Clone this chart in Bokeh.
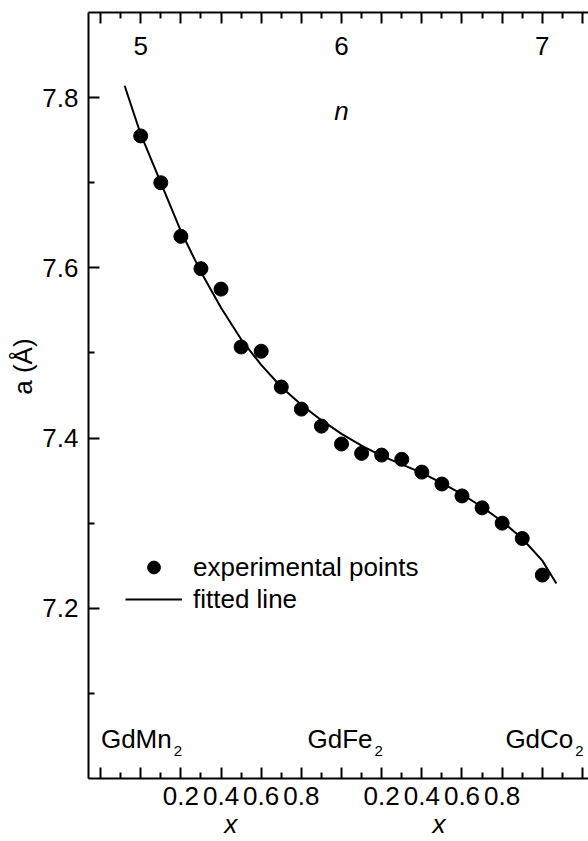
from bokeh.plotting import figure
from bokeh.models import (LinearAxis, FixedTicker, Range1d, Legend, LegendItem)
from bokeh.core.properties import value
from bokeh.embed import file_html
from bokeh.resources import INLINE

# ---------------- data ----------------
# n = number of 3d electrons; x = composition within each series
n_exp = [5.0, 5.1, 5.2, 5.3, 5.4, 5.5, 5.6, 5.7, 5.8, 5.9, 6.0,
         6.1, 6.2, 6.3, 6.4, 6.5, 6.6, 6.7, 6.8, 6.9, 7.0]
a_exp = [7.755, 7.700, 7.637, 7.599, 7.575, 7.507, 7.502, 7.460, 7.434, 7.414, 7.393,
         7.382, 7.380, 7.375, 7.360, 7.346, 7.332, 7.318, 7.300, 7.282, 7.239]

n_fit = [4.92, 5.00, 5.10, 5.20, 5.30, 5.40, 5.50, 5.60, 5.70, 5.80, 5.90, 6.00,
         6.10, 6.20, 6.30, 6.40, 6.50, 6.60, 6.70, 6.80, 6.90, 7.00, 7.07]
a_fit = [7.814, 7.757, 7.700, 7.643, 7.595, 7.553, 7.516, 7.486, 7.460, 7.439, 7.421, 7.405,
         7.391, 7.379, 7.369, 7.359, 7.347, 7.334, 7.319, 7.302, 7.282, 7.256, 7.229]

compound_n = [5.0, 6.0, 7.0]
compound_names = ["GdMn", "GdFe", "GdCo"]
compound_sub = ["2", "2", "2"]
top_tick_labels = ["5", "6", "7"]
x_frac_labels = ["0.2", "0.4", "0.6", "0.8"]
x_frac_values = [0.2, 0.4, 0.6, 0.8]
x_major = [4.8, 5.0, 5.2, 5.4, 5.6, 5.8, 6.0, 6.2, 6.4, 6.6, 6.8, 7.0, 7.2]
x_minor = [4.9, 5.1, 5.3, 5.5, 5.7, 5.9, 6.1, 6.3, 6.5, 6.7, 6.9, 7.1]
y_major = [7.2, 7.4, 7.6, 7.8]
y_minor = [7.1, 7.3, 7.5, 7.7]

FONT = "Liberation Sans"
FS = "26px"
NBSP = "\u00a0"

p = figure(width=588, height=841, output_backend="svg", toolbar_location=None,
           x_range=Range1d(4.74, 7.23), y_range=Range1d(7.0, 7.9),
           min_border_left=88, min_border_right=0, min_border_top=12,
           min_border_bottom=63)
p.outline_line_color = None
p.grid.visible = False
p.background_fill_color = "white"
p.border_fill_color = "white"


def style_axis(ax):
    ax.axis_line_color = "black"
    ax.axis_line_width = 2
    ax.major_tick_line_color = "black"
    ax.major_tick_line_width = 2
    ax.minor_tick_line_color = "black"
    ax.minor_tick_line_width = 2
    ax.major_tick_in = 11
    ax.major_tick_out = 0
    ax.minor_tick_in = 6
    ax.minor_tick_out = 0
    ax.major_label_text_font = FONT
    ax.major_label_text_font_size = FS
    ax.major_label_text_color = "black"
    ax.axis_label_text_font = FONT
    ax.axis_label_text_font_size = FS
    ax.axis_label_text_color = "black"
    ax.axis_label_text_font_style = "normal"


# bottom axis: x within each series (one italic "x" title under each series)
xb = p.xaxis[0]
xb.ticker = FixedTicker(ticks=x_major, minor_ticks=x_minor)
style_axis(xb)
overrides = {t: "" for t in x_major}
for base in compound_n[:2]:
    for f, lab in zip(x_frac_values, x_frac_labels):
        overrides[round(base + f, 1)] = lab
xb.major_label_overrides = overrides
xb.major_label_standoff = 8
xb.axis_label = "x" + NBSP * 27 + "x" + NBSP
xb.axis_label_text_font_style = "italic"
xb.axis_label_text_baseline = "alphabetic"
xb.axis_label_standoff = 1

# top axis: n (labels drawn inside the frame)
xt = LinearAxis(ticker=FixedTicker(ticks=x_major, minor_ticks=x_minor))
style_axis(xt)
xt.major_label_text_font_size = "1px"
xt.major_label_text_alpha = 0
xt.major_label_standoff = 0
p.add_layout(xt, "above")

# left axis
yl = p.yaxis[0]
yl.ticker = FixedTicker(ticks=y_major, minor_ticks=y_minor)
style_axis(yl)
yl.major_label_standoff = 10
yl.axis_label = NBSP * 8 + "a (\u00c5)"
yl.axis_label_standoff = 1

# fitted line and experimental points
r_line = p.line(n_fit, a_fit, line_color="black", line_width=2)
r_pts = p.scatter(n_exp, a_exp, size=14, fill_color="black", line_color="black")

legend = Legend(items=[LegendItem(label="experimental points", renderers=[r_pts]),
                       LegendItem(label="fitted line", renderers=[r_line])],
                location=(37, 163), glyph_width=57, glyph_height=32, label_height=32,
                label_standoff=11, spacing=0, padding=0, margin=0,
                border_line_color=None, background_fill_alpha=0,
                label_text_font=FONT, label_text_font_size=FS, label_text_color="black")
p.add_layout(legend)

ytop = p.y_range.end
ybot = p.y_range.start

# n tick labels inside the top of the frame
p.text(x=compound_n, y=[ytop] * len(compound_n), text=top_tick_labels, y_offset=33,
       text_align="center", text_baseline="middle", text_font=value(FONT),
       text_font_size=FS, text_color="black")
p.text(x=[6.0], y=[ytop], text=["n"], y_offset=98, text_align="center",
       text_baseline="middle", text_font=value(FONT), text_font_size=FS,
       text_font_style="italic", text_color="black")

# compound names inside the bottom of the frame (with subscript 2)
p.text(x=compound_n, y=[ybot] * len(compound_n), text=compound_names, x_offset=31,
       y_offset=-40, text_align="right", text_baseline="alphabetic",
       text_font=value(FONT), text_font_size=FS, text_color="black")
p.text(x=compound_n, y=[ybot] * len(compound_n), text=compound_sub, x_offset=33,
       y_offset=-28, text_align="left", text_baseline="alphabetic",
       text_font=value(FONT), text_font_size="15px", text_color="black")

open("out.html", "w").write(file_html(p, INLINE))
